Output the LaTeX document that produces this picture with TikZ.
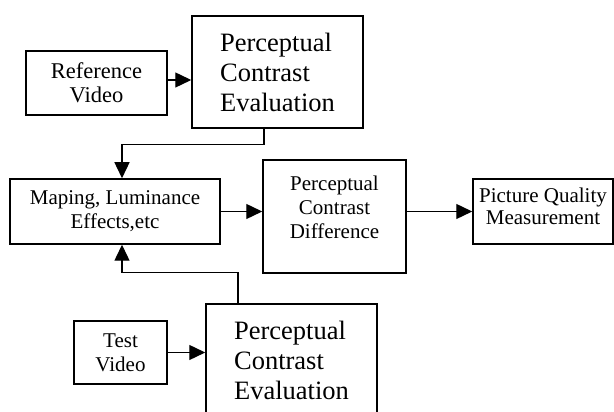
\documentclass[tikz,border=0pt]{standalone}
\usepackage{fontspec}
\setmainfont{Liberation Serif}
\usetikzlibrary{arrows.meta}

\begin{document}
\begin{tikzpicture}[x=1pt, y=1pt,
  box/.style={draw, line width=1.5pt, align=center, inner sep=2pt, font=\fontsize{21}{24}\selectfont},
  bigbox/.style={box, align=left, minimum width=171pt, minimum height=112pt, font=\fontsize{26.5}{30}\selectfont},
  arr/.style={-{Triangle[length=16pt, width=15pt]}, line width=1.4pt}
]
  \clip (0,0) rectangle (614,412);
  \node[box, minimum width=141pt, minimum height=64pt, font=\fontsize{22.5}{24}\selectfont] (ref) at (96.5,329) {Reference\\Video};
  \node[bigbox] (pceA) at (277.5,340) {Perceptual\\Contrast\\Evaluation};
  \node[box, minimum width=210pt, minimum height=65pt] (map) at (115,200.5) {Maping, Luminance\\Effects,etc};
  \node[box, minimum width=143pt, minimum height=113pt, text depth=19pt] (pcd) at (334.5,195.5) {Perceptual\\Contrast\\Difference};
  \node[box, minimum width=140pt, minimum height=65pt, text depth=10pt, font=\fontsize{21}{22}\selectfont] (pqm) at (543,200.5) {Picture Quality\\Measurement};
  \node[box, minimum width=93pt, minimum height=63pt] (test) at (120.5,59.5) {Test\\Video};
  \node[bigbox] (pceB) at (291.5,52) {Perceptual\\Contrast\\Evaluation};

  \draw[arr] ([yshift=3pt]ref.east) -- ([yshift=3pt]ref.east -| pceA.west);
  \draw[arr] ([xshift=-13.5pt]pceA.south) -- ++(0,-16) -| ([xshift=7pt]map.north);
  \draw[arr] (map.east) -- (map.east -| pcd.west);
  \draw[arr] (pcd.east |- pqm.west) -- (pqm.west);
  \draw[arr] (test.east) -- (test.east -| pceB.west);
  \draw[arr] ([xshift=-53.5pt]pceB.north) -- ++(0,31) -| ([xshift=7pt]map.south);
\end{tikzpicture}
\end{document}
